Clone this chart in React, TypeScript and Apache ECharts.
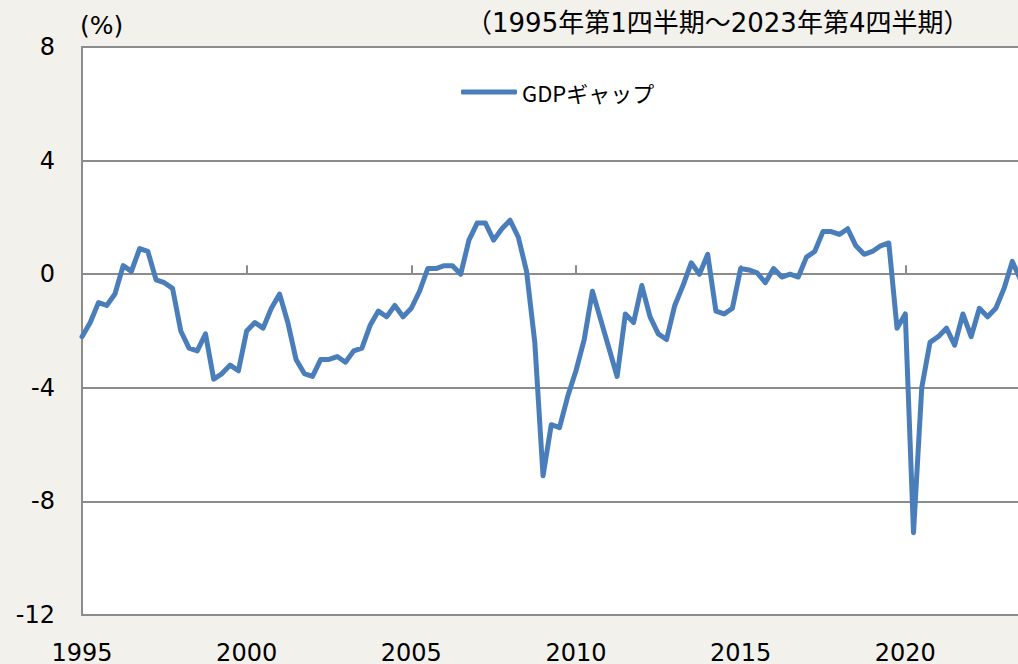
import React, { useEffect, useRef } from "react";
import * as echarts from "echarts";

const years = [1995, 1996, 1997, 1998, 1999, 2000, 2001, 2002, 2003, 2004, 2005, 2006, 2007, 2008, 2009, 2010, 2011, 2012, 2013, 2014, 2015, 2016, 2017, 2018, 2019, 2020, 2021, 2022, 2023];
const quarterOffsets = [0, 0.25, 0.5, 0.75];
// GDP gap (%), quarterly, 1995Q1 - 2023Q4
const gdpGap = [
  -2.2, -1.7, -1.0, -1.1,
  -0.7, 0.3, 0.1, 0.9,
  0.8, -0.2, -0.3, -0.5,
  -2.0, -2.6, -2.7, -2.1,
  -3.7, -3.5, -3.2, -3.4,
  -2.0, -1.7, -1.9, -1.2,
  -0.7, -1.7, -3.0, -3.5,
  -3.6, -3.0, -3.0, -2.9,
  -3.1, -2.7, -2.6, -1.8,
  -1.3, -1.5, -1.1, -1.5,
  -1.2, -0.6, 0.2, 0.2,
  0.3, 0.3, 0.0, 1.2,
  1.8, 1.8, 1.2, 1.6,
  1.9, 1.3, 0.1, -2.4,
  -7.1, -5.3, -5.4, -4.3,
  -3.4, -2.3, -0.6, -1.6,
  -2.6, -3.6, -1.4, -1.7,
  -0.4, -1.5, -2.1, -2.3,
  -1.1, -0.4, 0.4, 0.0,
  0.7, -1.3, -1.4, -1.2,
  0.2, 0.15, 0.05, -0.3,
  0.2, -0.1, 0.0, -0.1,
  0.6, 0.8, 1.5, 1.5,
  1.4, 1.6, 1.0, 0.7,
  0.8, 1.0, 1.1, -1.9,
  -1.4, -9.1, -4.0, -2.4,
  -2.2, -1.9, -2.5, -1.4,
  -2.2, -1.2, -1.5, -1.2,
  -0.5, 0.45, -0.2, -0.6,
];
const yTicks = { min: -12, max: 8, interval: 4 };
const xRange = { min: 1995, max: 2024, interval: 5 };
const seriesName = "GDPギャップ";
const unitLabel = "(%)";
const periodLabel = "（1995年第1四半期～2023年第4四半期）";

const FONT = "'DejaVu Sans', 'Noto Sans CJK JP', sans-serif";
const GRAY = "#8c8c8c";
const BLUE = "#4a7ebb";

export default function App() {
  const ref = useRef<HTMLDivElement>(null);
  useEffect(() => {
    if (!ref.current) return;
    const chart = echarts.init(ref.current, undefined, { renderer: "svg" });
    const data: [number, number][] = [];
    years.forEach((y, yi) => {
      quarterOffsets.forEach((q, qi) => {
        data.push([y + q, gdpGap[yi * 4 + qi]]);
      });
    });
    chart.setOption({
      animation: false,
      backgroundColor: "#f2f1ec",
      textStyle: { fontFamily: FONT },
      grid: {
        left: 82,
        top: 47,
        bottom: 49,
        right: -19,
        outerBoundsMode: "none",
        containLabel: false,
        show: true,
        backgroundColor: "#ffffff",
        borderColor: GRAY,
        borderWidth: 2,
      },
      legend: {
        data: [{ name: seriesName, icon: "roundRect" }],
        left: 456,
        top: 76,
        itemWidth: 56,
        itemHeight: 5,
        itemGap: 4,
        textStyle: { fontSize: 22, color: "#000", fontFamily: "'Noto Sans CJK JP', sans-serif" },
      },
      xAxis: [
        {
          type: "value",
          position: "bottom",
          min: xRange.min,
          max: xRange.max,
          interval: xRange.interval,
          axisLine: { show: true, onZero: false, lineStyle: { color: GRAY, width: 2 } },
          axisTick: { show: false },
          splitLine: { show: false },
          axisLabel: {
            fontSize: 24,
            color: "#000",
            margin: 26,
            fontFamily: FONT,
            showMaxLabel: false,
            formatter: (v: number) => (v % 5 === 0 ? String(v) : ""),
          },
        },
        {
          type: "value",
          position: "bottom",
          min: xRange.min,
          max: xRange.max,
          interval: xRange.interval,
          axisLine: { show: true, onZero: true, lineStyle: { color: GRAY, width: 2 } },
          axisTick: { show: true, inside: true, length: 9, lineStyle: { color: GRAY, width: 2 } },
          splitLine: { show: false },
          axisLabel: { show: false },
        },
      ],
      yAxis: {
        type: "value",
        min: yTicks.min,
        max: yTicks.max,
        interval: yTicks.interval,
        axisLine: { show: true, lineStyle: { color: GRAY, width: 2 } },
        axisTick: { show: false },
        splitLine: { show: true, lineStyle: { color: GRAY, width: 2 } },
        axisLabel: { fontSize: 24, color: "#000", margin: 27, fontFamily: FONT },
      },
      graphic: [
        {
          type: "text",
          left: 80,
          top: 13,
          style: { text: unitLabel, fontSize: 25, fill: "#000", fontFamily: FONT },
        },
        {
          type: "text",
          left: 466,
          top: 10,
          style: { text: periodLabel, fontSize: 26, fill: "#000", fontFamily: FONT },
        },
      ],
      series: [
        {
          name: seriesName,
          type: "line",
          xAxisIndex: 0,
          data,
          symbol: "none",
          lineStyle: { color: BLUE, width: 5, join: "round", cap: "round" },
          itemStyle: { color: BLUE },
        },
      ],
    });
    return () => chart.dispose();
  }, []);
  return (
    <div
      ref={ref}
      style={{ position: "fixed", left: 0, top: 0, width: 1018, height: 664 }}
    />
  );
}
